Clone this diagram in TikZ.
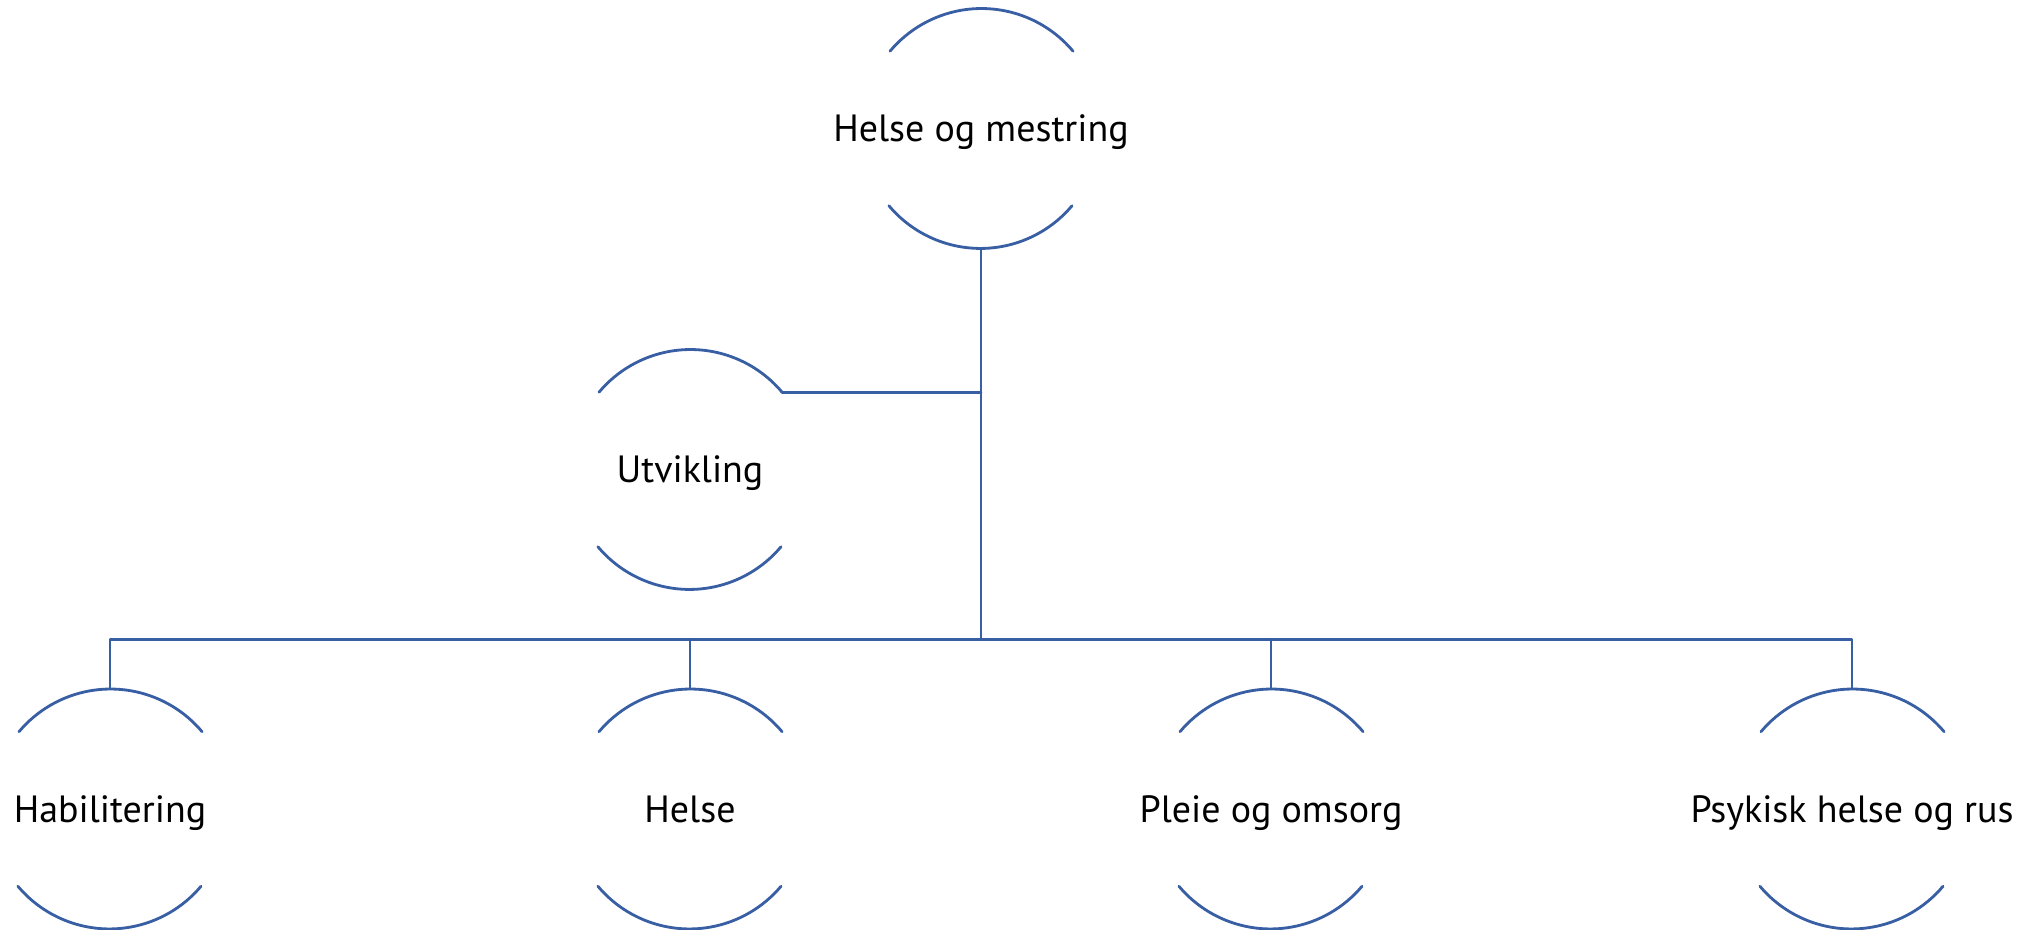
\documentclass[tikz,border=0pt]{standalone}
\usepackage{fontspec}
\setmainfont{PT Sans}
\usepackage{tikz}
\usetikzlibrary{calc}
\definecolor{uuqqbb}{rgb}{0.22,0.37,0.64}
\tikzstyle{every node}=[font=\fontsize{10.8}{13}\selectfont]
\tikzstyle{kreis}=[circle,minimum size=2.39cm,inner sep=0pt]
\tikzstyle{tekst}=[anchor=base,inner sep=0pt]
\tikzstyle{linje}=[line width=0.8pt,color=uuqqbb]

\begin{document}
\begin{tikzpicture}[line cap=round,line join=round,x=1.0cm,y=1.0cm]
\useasboundingbox (0,0) rectangle (20.4,9.3);
\node[kreis] (hm) at (9.81,8.015) {};
\node[kreis] (utv) at (6.90,4.605) {};
\node[kreis] (hab) at (1.10,1.21) {};
\node[kreis] (hel) at (6.90,1.21) {};
\node[kreis] (pom) at (12.71,1.21) {};
\node[kreis] (phr) at (18.52,1.21) {};
\foreach \n/\t in {hm/Helse og mestring,utv/Utvikling,hab/Habilitering,hel/Helse,pom/Pleie og omsorg,phr/Psykisk helse og rus}{
  \node[tekst] (\n-t) at ($(\n)+(0,-0.135)$) {\t};
  \draw [linje] (\n.40) arc[start angle=40,end angle=140,radius=1.195];
  \draw [linje] (\n.220) arc[start angle=220,end angle=320,radius=1.195];
}
\coordinate (bus) at ($(hab.north)+(0,0.495)$);
\draw [linje] (hm.south) -- (hm.south |- bus);
\draw [linje] (utv.40) -- (utv.40 -| hm.south);
\draw [linje] (hab.north) -- (bus) -| (phr.north);
\draw [linje] (hel.north) -- (hel.north |- bus);
\draw [linje] (pom.north) -- (pom.north |- bus);
\end{tikzpicture}
\end{document}
